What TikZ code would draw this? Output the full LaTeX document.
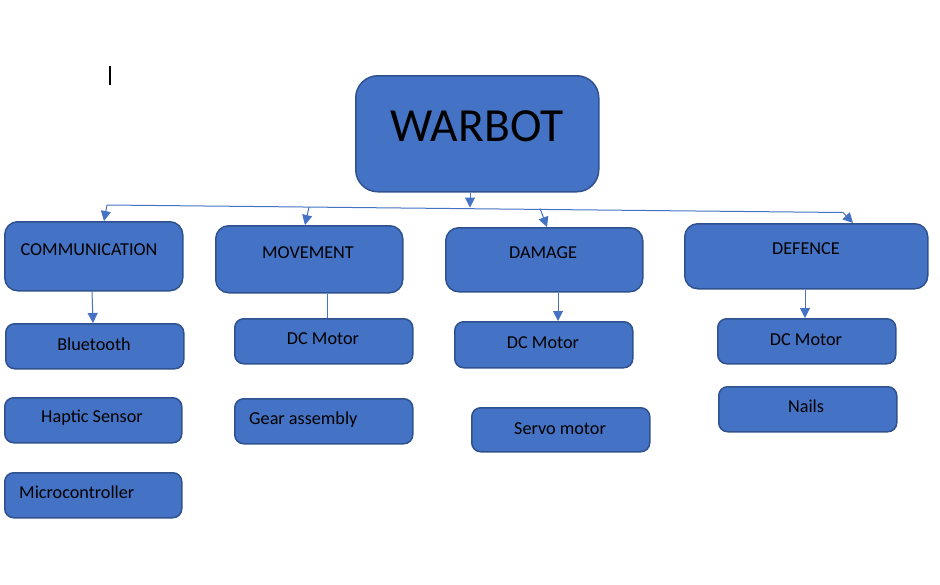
\documentclass[tikz,border=0pt]{standalone}
\usepackage{fontspec}
\setmainfont{Carlito}
\usetikzlibrary{arrows.meta}
\definecolor{boxfill}{HTML}{4472C4}
\definecolor{boxline}{HTML}{2F528F}
\definecolor{conn}{HTML}{4472C4}
\tikzset{
  px/.style={x=1pt,y=-1pt},
  bx/.style={draw=boxline,fill=boxfill,line width=1.5pt,rounded corners=9pt,inner sep=0pt,anchor=north west},
  topbx/.style={bx,rounded corners=13pt},
  lbl/.style={font=\fontsize{18.2}{21}\selectfont,text=black,inner sep=0pt},
  conline/.style={draw=conn,line width=1pt},
  conarr/.style={conline,-{Triangle[width=10pt,length=10pt]}}
}
\begin{document}
\begin{tikzpicture}[px]
\useasboundingbox (0,0) rectangle (940,584);
\fill[white] (0,0) rectangle (940,584);
% cursor
\draw[line width=1.6pt] (110,66) coordinate (cur1) -- (110,85) coordinate (cur2);
% main
\node[bx,rounded corners=22pt,minimum width=243pt,minimum height=116pt] (warbot) at (355,75) {};
\node[font=\fontsize{47.5}{52}\selectfont,inner sep=0pt] (warbotT) at (477,126) {WARBOT};
% categories
\node[topbx,minimum width=178pt,minimum height=69pt] (comm) at (4,221) {};
\node[lbl] at (89,249.5) {COMMUNICATION};
\node[topbx,minimum width=187pt,minimum height=67pt] (move) at (215,225) {};
\node[lbl] at (308,252.5) {MOVEMENT};
\node[topbx,minimum width=197pt,minimum height=64pt] (dam) at (445,227) {};
\node[lbl] at (543,252.5) {DAMAGE};
\node[topbx,minimum width=243pt,minimum height=65pt] (def) at (684,223) {};
\node[lbl] at (806,248.5) {DEFENCE};
% items
\node[bx,minimum width=178pt,minimum height=45pt] (blue) at (5,323) {};
\node[lbl] at (94,344.5) {Bluetooth};
\node[bx,minimum width=177pt,minimum height=45pt] (hap) at (4,397) {};
\node[lbl] at (92,417.5) {Haptic Sensor};
\node[bx,minimum width=177pt,minimum height=45pt] (micro) at (4,472) {};
\node[lbl,anchor=west] at (19,492.5) {Microcontroller};
\node[bx,minimum width=178pt,minimum height=45pt] (dc1) at (234,318) {};
\node[lbl] at (323,338.5) {DC Motor};
\node[bx,minimum width=178pt,minimum height=45pt] (gear) at (234,398) {};
\node[lbl,anchor=west] at (249,419.5) {Gear assembly};
\node[bx,minimum width=178pt,minimum height=46pt] (dc2) at (454,321) {};
\node[lbl] at (543,342.5) {DC Motor};
\node[bx,minimum width=178pt,minimum height=44pt] (servo) at (471,407) {};
\node[lbl] at (560,428.5) {Servo motor};
\node[bx,minimum width=178pt,minimum height=45pt] (dc3) at (717,318) {};
\node[lbl] at (806,339.5) {DC Motor};
\node[bx,minimum width=178pt,minimum height=45pt] (nails) at (718,386) {};
\node[lbl] at (806,406.5) {Nails};
% bus
\coordinate (busL) at (107,205);
\coordinate (busM) at (309,207);
\coordinate (busW) at (470,207.5);
\coordinate (busD) at (540,208.5);
\coordinate (busR) at (843,212.5);
\draw[conline] (busL) -- (busR);
\draw[conarr] (warbot.south -| busW) -- (busW);
\draw[conarr] (busL) -- (104,221);
\draw[conarr] (busM) -- (305,225);
\draw[conarr] (busD) -- (547,227);
\draw[conarr] (busR) -- (853,223);
% to items
\draw[conarr] (92,291) -- (blue.north -| 93,0);
\draw[conline] (move.south -| 327,0) -- (dc1.north -| 327,0);
\draw[conarr] (dam.south -| 558,0) -- (dc2.north -| 558,0);
\draw[conarr] (def.south -| 805,0) -- (dc3.north -| 805,0);
\end{tikzpicture}
\end{document}
